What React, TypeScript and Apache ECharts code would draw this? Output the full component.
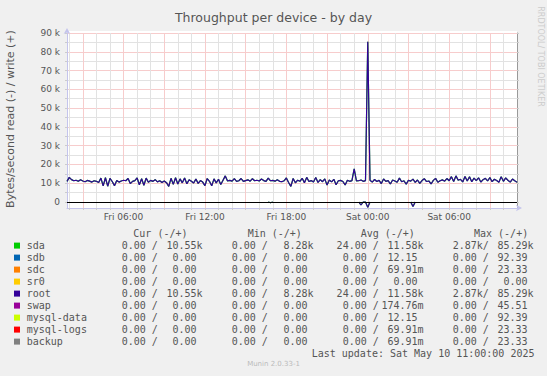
import React, { useEffect, useRef } from "react";
import * as echarts from "echarts";

// x values are minutes since Fri 00:00
const START_MIN = 110; // Fri 01:50
const END_MIN = 2100; // Sat 11:00
const STEP_MIN = 10;

// write bytes/s (sda and root carry identical values), one per 10 minutes from Fri 01:50
const writeBytes = [
  11000,
  13100, 11900, 11300, 11600, 11000, 11800, // 02
  11200, 10800, 11500, 11100, 10600, 11300, // 03
  11000, 10400, 12700, 8600, 12900, 8400, // 04
  12600, 10900, 8700, 11400, 10600, 11200, // 05
  11600, 11300, 12500, 9800, 11000, 11400, // 06
  12800, 9200, 12400, 8900, 12700, 10500, // 07
  11500, 11000, 11900, 10700, 11300, 10400, // 08
  11200, 10300, 8280, 12600, 9400, 12900, // 09
  9600, 12300, 10200, 12800, 9700, 11800, // 10
  11000, 10100, 12200, 9900, 11400, 10600, // 11
  8700, 12500, 11000, 8600, 12300, 10200, // 12
  12100, 9300, 11600, 13900, 11200, 11500, // 13
  11100, 12400, 11000, 11300, 12500, 11000, // 14
  11400, 11800, 11100, 12400, 11300, 11600, // 15
  11200, 12200, 11400, 11000, 12700, 11300, // 16
  11500, 11100, 11800, 11000, 10800, 11300, // 17
  12800, 10400, 8300, 12500, 10200, 11600, // 18
  11000, 12600, 10300, 13100, 10900, 11400, // 19
  10600, 13000, 10400, 11900, 10800, 12300, // 20
  9000, 11700, 10700, 12100, 9200, 11300, // 21
  11500, 10900, 9100, 11600, 11000, 11400, // 22
  17600, 11200, 11300, 11700, 11000, 11400, // 23
  85290, 11600, 10600, 12000, 10900, 11500, // Sat 00
  9800, 12300, 11000, 11400, 9600, 11700, // 01
  11200, 10500, 12700, 10800, 11300, 9500, // 02
  11600, 11100, 12200, 10400, 11700, 9900, // 03
  11400, 12400, 10900, 11200, 9600, 11500, // 04
  12600, 10500, 11300, 11800, 11100, 12500, // 05
  11300, 13500, 10900, 13900, 11600, 12100, // 06
  10700, 13600, 11200, 13400, 10800, 12700, // 07
  11400, 12900, 10600, 11900, 12600, 11200, // 08
  13000, 10800, 12100, 11400, 10500, 13500, // 09
  11000, 12800, 11600, 10600, 12200, 11300, // 10
  10550,
];

// read bytes/s drawn negative: [minute, value]; null breaks the line between dips
const readPoints: [number, number | null][] = [
  [1000, 0], [1010, -400], [1020, 0], [1021, null],
  [1400, 0], [1410, -1600], [1420, 0], [1430, 0], [1440, -2870], [1450, 0], [1451, null],
  [1630, 0], [1640, -2400], [1650, 0],
];

const xLabelValues = [360, 720, 1080, 1440, 1800];
const xLabelTexts = ["Fri 06:00", "Fri 12:00", "Fri 18:00", "Sat 00:00", "Sat 06:00"];
// hourly grid from Fri 02:00 to Sat 10:00; every third hour is a major line
const xGridValues = [
  120, 180, 240, 300, 360, 420, 480, 540, 600, 660, 720, 780, 840, 900, 960, 1020, 1080,
  1140, 1200, 1260, 1320, 1380, 1440, 1500, 1560, 1620, 1680, 1740, 1800, 1860, 1920, 1980, 2040,
];
const yLabelValues = [0, 10000, 20000, 30000, 40000, 50000, 60000, 70000, 80000, 90000];
const yGridValues = [
  0, 5000, 10000, 15000, 20000, 25000, 30000, 35000, 40000, 45000,
  50000, 55000, 60000, 65000, 70000, 75000, 80000, 85000, 90000,
];
const yMin = -3200;
const yMax = 90000;

const legendNames = ["sda", "sdb", "sdc", "sr0", "root", "swap", "mysql-data", "mysql-logs", "backup"];
const legendColors = ["#00cc00", "#0066b3", "#ff8000", "#ffcc00", "#330099", "#990099", "#ccff00", "#ff0000", "#808080"];
const curRead = ["0.00", "0.00", "0.00", "0.00", "0.00", "0.00", "0.00", "0.00", "0.00"];
const curWrite = ["10.55k", "0.00", "0.00", "0.00", "10.55k", "0.00", "0.00", "0.00", "0.00"];
const minRead = ["0.00", "0.00", "0.00", "0.00", "0.00", "0.00", "0.00", "0.00", "0.00"];
const minWrite = ["8.28k", "0.00", "0.00", "0.00", "8.28k", "0.00", "0.00", "0.00", "0.00"];
const avgRead = ["24.00", "0.00", "0.00", "0.00", "24.00", "0.00", "0.00", "0.00", "0.00"];
const avgWrite = ["11.58k", "12.15", "69.91m", "0.00", "11.58k", "174.76m", "12.15", "69.91m", "69.91m"];
const maxRead = ["2.87k", "0.00", "0.00", "0.00", "2.87k", "0.00", "0.00", "0.00", "0.00"];
const maxWrite = ["85.29k", "92.39", "23.33", "0.00", "85.29k", "45.51", "92.39", "23.33", "23.33"];
const headers = ["Cur (-/+)", "Min (-/+)", "Avg (-/+)", "Max (-/+)"];
const lastUpdate = "Last update: Sat May 10 11:00:00 2025";

const TEXT = "#555555";
const MONO = '"DejaVu Sans Mono", monospace';
const SANS = '"DejaVu Sans", sans-serif';
const CHAR_W = 6.02;
// light solid tones that read like the dotted rrdtool grid
const MINOR_GRID = "#e2e2e2";
const MAJOR_GRID = "#f7cccc";

const PLOT = { left: 67, top: 33, width: 450, height: 175 };

function fmtPart(v: string) {
  const m = v.match(/^([\d.]+)([a-zA-Z]?)$/);
  const num = m ? m[1] : v;
  const suf = m && m[2] ? m[2] : " ";
  return num.padStart(6, " ") + suf;
}

function monoText(s: string, x: number, y: number) {
  const lead = s.length - s.trimStart().length;
  return {
    type: "text",
    x: x + lead * CHAR_W,
    y,
    silent: true,
    style: { text: s.trim(), font: `10px ${MONO}`, fill: TEXT, verticalAlign: "middle", align: "left" },
  };
}

function buildOption() {
  const writeData = writeBytes.map((v, i) => [START_MIN + i * STEP_MIN, v]);

  const colFirst = [109.7, 219.6, 330.6, 440.6];
  const colSecond = [160.5, 271.5, 381.5, 491.5];
  const headerX = [133.3, 247.7, 360.7, 474];
  const rowY0 = 245.6;
  const rowH = 12;

  const graphics: any[] = [];
  graphics.push({
    type: "rect",
    silent: true,
    z: -100,
    shape: { x: PLOT.left, y: PLOT.top - 2, width: PLOT.width, height: PLOT.height + 2 },
    style: { fill: "#ffffff" },
  });
  headers.forEach((h, i) => graphics.push(monoText(h, headerX[i], 233.4)));
  const cols = [
    [curRead, curWrite],
    [minRead, minWrite],
    [avgRead, avgWrite],
    [maxRead, maxWrite],
  ];
  legendNames.forEach((name, r) => {
    const y = rowY0 + r * rowH;
    graphics.push({
      type: "rect",
      silent: true,
      shape: { x: 14, y: y - 3, width: 6, height: 6 },
      style: { fill: legendColors[r] },
    });
    graphics.push(monoText(name, 26.7, y));
    cols.forEach(([rd, wr], c) => {
      graphics.push(monoText(fmtPart(rd[r]) + "/", colFirst[c], y));
      graphics.push(monoText(fmtPart(wr[r]), colSecond[c], y));
    });
  });
  graphics.push(monoText(lastUpdate, 311.7, 353.5));
  graphics.push({
    type: "text",
    x: 273.5,
    y: 364.3,
    silent: true,
    style: { text: "Munin 2.0.33-1", font: `7px ${SANS}`, fill: "#bbbbbb", align: "center", verticalAlign: "middle" },
  });
  graphics.push({
    type: "text",
    x: 10.5,
    y: 119,
    rotation: Math.PI / 2,
    silent: true,
    style: { text: "Bytes/second read (-) / write (+)", font: `11px ${SANS}`, fill: TEXT, align: "center", verticalAlign: "middle" },
  });
  graphics.push({
    type: "text",
    x: 540,
    y: 56.5,
    rotation: -Math.PI / 2,
    silent: true,
    style: { text: "RRDTOOL/ TOBI OETIKER", font: `8px ${SANS}`, fill: "#cccccc", align: "center", verticalAlign: "middle" },
  });

  const axisBlue = "#c4c4ec";

  return {
    animation: false,
    backgroundColor: "#f0f0f0",
    title: {
      text: "Throughput per device - by day",
      left: "center",
      top: 6,
      textStyle: { fontFamily: SANS, fontSize: 12.5, fontWeight: "normal", color: TEXT },
    },
    grid: {
      left: PLOT.left,
      top: PLOT.top,
      width: PLOT.width,
      height: PLOT.height,
      show: false,
    },
    xAxis: {
      type: "value",
      z: 1,
      min: START_MIN,
      max: END_MIN,
      splitLine: {
        show: true,
        lineStyle: { color: [MINOR_GRID, MAJOR_GRID, MINOR_GRID], type: "solid", width: 1 },
      },
      axisLine: {
        show: true,
        onZero: false,
        symbol: ["none", "arrow"],
        symbolSize: [5, 6],
        symbolOffset: [0, 5],
        lineStyle: { color: axisBlue, width: 1 },
      },
      axisTick: {
        show: true,
        length: 2,
        customValues: xGridValues,
        lineStyle: { color: "#cccccc" },
      },
      axisLabel: {
        customValues: xLabelValues,
        formatter: (v: number) => xLabelTexts[xLabelValues.indexOf(v)] ?? "",
        fontFamily: SANS,
        fontSize: 9,
        color: TEXT,
        margin: 4,
      },
    },
    yAxis: [
      {
        type: "value",
        z: 1,
        min: yMin,
        max: yMax,
        splitLine: {
          show: true,
          lineStyle: { color: [MAJOR_GRID, MINOR_GRID], type: "solid", width: 1 },
        },
        axisLine: {
          show: true,
          onZero: false,
          symbol: ["none", "arrow"],
          symbolSize: [5, 6],
          symbolOffset: [0, 5],
          lineStyle: { color: axisBlue, width: 1 },
        },
        axisTick: {
          show: true,
          length: 2,
          customValues: yGridValues,
          lineStyle: { color: "#cccccc" },
        },
        axisLabel: {
          customValues: yLabelValues,
          formatter: (v: number) => (v === 0 ? "0" : `${v / 1000} k`),
          fontFamily: SANS,
          fontSize: 9,
          color: TEXT,
          margin: 7,
        },
      },
      {
        type: "value",
        z: 1,
        position: "right",
        min: yMin,
        max: yMax,
        splitLine: { show: false },
        axisLine: { show: true, onZero: false, lineStyle: { color: "#999999", width: 1 } },
        axisTick: {
          show: true,
          length: 2,
          customValues: yGridValues,
          lineStyle: { color: "#cccccc" },
        },
        axisLabel: { show: false },
      },
    ],
    graphic: graphics,
    series: [
      {
        name: "sda",
        type: "line",
        z: 3,
        data: writeData,
        showSymbol: false,
        silent: true,
        lineStyle: { color: "#00cc00", width: 1.2 },
      },
      {
        name: "sda read",
        type: "line",
        z: 3,
        data: readPoints,
        showSymbol: false,
        silent: true,
        lineStyle: { color: "#00cc00", width: 1.2 },
      },
      {
        name: "root",
        type: "line",
        z: 4,
        data: writeData,
        showSymbol: false,
        silent: true,
        lineStyle: { color: "#330099", width: 1.2 },
      },
      {
        name: "root read",
        type: "line",
        z: 4,
        data: readPoints,
        showSymbol: false,
        silent: true,
        lineStyle: { color: "#330099", width: 1.2 },
        markLine: {
          silent: true,
          z: 5,
          symbol: ["none", "none"],
          label: { show: false },
          emphasis: { disabled: true },
          data: [{ yAxis: 0, lineStyle: { color: "#000000", type: "solid", width: 1 } }],
        },
      },
    ],
  };
}

export default function App() {
  const ref = useRef<HTMLDivElement>(null);
  useEffect(() => {
    if (!ref.current) return;
    const chart = echarts.init(ref.current, null, { renderer: "svg" });
    chart.setOption(buildOption() as any);
    return () => chart.dispose();
  }, []);
  return <div ref={ref} style={{ position: "absolute", left: 0, top: 0, width: 547, height: 376 }} />;
}
